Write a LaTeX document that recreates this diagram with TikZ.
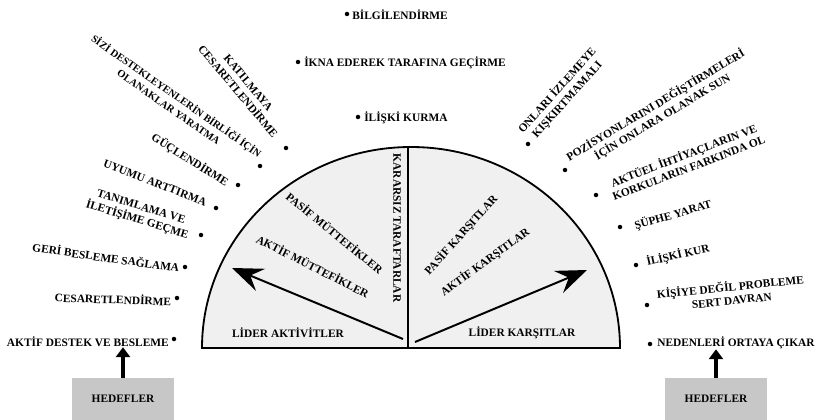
\documentclass[tikz,border=0pt]{standalone}
\usepackage{fontspec}
\setmainfont{Liberation Serif}
\usetikzlibrary{arrows.meta}

\begin{document}
\begin{tikzpicture}[x=0.025cm, y=-0.025cm,
    font=\fontsize{8.1}{9.6}\selectfont\bfseries,
    lbl/.style={inner sep=0pt, align=center},
    dot/.style={circle, fill=black, inner sep=0pt, minimum size=3.2pt},
    goal/.style={fill=black!22, minimum width=2.55cm, minimum height=1.05cm, inner sep=0pt}]
      \useasboundingbox (0,0) rectangle (817,420);
      \draw [fill=black!6, line width=1.3pt] (202,348) arc [start angle=180, end angle=360, x radius=209, y radius=201] -- cycle;
      \draw [line width=1pt] (408,147) -- (408,348);
      \node [lbl, rotate=-90] (kararsiz) at (397,228) {KARARSIZ TARAFTARLAR};
      \node [lbl, rotate=-39] (pasifM) at (335,233) {PASİF MÜTTEFİKLER};
      \node [lbl, rotate=-27] (aktifM) at (313,266) {AKTİF MÜTTEFİKLER};
      \node [lbl] (liderA) at (288,333) {LİDER AKTİVİTLER};
      \node [lbl, rotate=48] (pasifK) at (461,235) {PASİF KARŞITLAR};
      \node [lbl, rotate=36] (aktifK) at (485,262) {AKTİF KARŞITLAR};
      \node [lbl] (liderK) at (522,333) {LİDER KARŞITLAR};
      \coordinate (okA1) at (403,339);
      \coordinate (okA2) at (232,268);
      \coordinate (okK1) at (415,342);
      \coordinate (okK2) at (587,270);
      \draw [line width=1.4pt, -{Stealth[length=22pt, width=17pt, inset=8pt]}] (okA1) -- (okA2);
      \draw [line width=1.4pt, -{Stealth[length=22pt, width=17pt, inset=8pt]}] (okK1) -- (okK2);
      % ust
      \node [dot] (d1) at (347,14) {};
      \node [lbl, anchor=west] (bilgi) at (352,15) {BİLGİLENDİRME};
      \node [dot] (d2) at (298,62) {};
      \node [lbl, anchor=west] (ikna) at (304,63) {İKNA EDEREK TARAFINA GEÇİRME};
      \node [dot] (d3) at (358,117) {};
      \node [lbl, anchor=west] (iliski) at (364,118) {İLİŞKİ KURMA};
      % sol
      \node [lbl, rotate=-35, font=\fontsize{7.4}{9.4}\selectfont\bfseries] (sizi) at (173,101) {SİZİ DESTEKLEYENLERİN BİRLİĞİ İÇİN\\OLANAKLAR YARATMA};
      \node [dot] (d4) at (260,166) {};
      \node [lbl, rotate=-50] (katil) at (243,87) {KATILMAYA\\CESARETLENDİRME};
      \node [dot] (d5) at (286,148) {};
      \node [lbl, rotate=-32] (guc) at (190,160) {GÜÇLENDİRME};
      \node [dot] (d6) at (238,185) {};
      \node [lbl, rotate=-21] (uyum) at (155,183) {UYUMU ARTTIRMA};
      \node [dot] (d7) at (216,208) {};
      \node [lbl, rotate=-17] (tanim) at (139,214) {TANIMLAMA VE\\İLETİŞİME GEÇME};
      \node [dot] (d8) at (201,235) {};
      \node [lbl, rotate=-8] (geri) at (106,257) {GERİ BESLEME SAĞLAMA};
      \node [dot] (d9) at (185,267) {};
      \node [lbl, rotate=-2] (cesaret) at (113,299) {CESARETLENDİRME};
      \node [dot] (d10) at (177,298) {};
      \node [lbl, anchor=east] (aktif) at (169,342) {AKTİF DESTEK VE BESLEME};
      \node [dot] (d11) at (174,339) {};
      % sag
      \node [dot] (d12) at (528,144) {};
      \node [lbl, rotate=48] (onlari) at (562,95) {ONLARI İZLEMEYE\\KIŞKIRTMAMALI};
      \node [dot] (d13) at (565,170) {};
      \node [lbl, rotate=31] (pozisyon) at (659,111) {POZİSYONLARINI DEĞİŞTİRMELERİ\\İÇİN ONLARA OLANAK SUN};
      \node [dot] (d14) at (596,195) {};
      \node [lbl, rotate=21] (aktuel) at (686,161) {AKTÜEL İHTİYAÇLARIN VE\\KORKULARIN FARKINDA OL};
      \node [dot] (d15) at (620,227) {};
      \node [lbl, rotate=16] (suphe) at (673,215) {ŞÜPHE YARAT};
      \node [dot] (d16) at (636,265) {};
      \node [lbl, rotate=13] (kur) at (678,255) {İLİŞKİ KUR};
      \node [dot] (d17) at (647,305) {};
      \node [lbl, rotate=6] (kisiye) at (731,293) {KİŞİYE DEĞİL PROBLEME\\SERT DAVRAN};
      \node [dot] (d18) at (650,344) {};
      \node [lbl, anchor=west] (neden) at (657,343) {NEDENLERİ ORTAYA ÇIKAR};
      % hedefler
      \node [goal] (hedefL) at (123,399) {HEDEFLER};
      \node [goal] (hedefR) at (716,399) {HEDEFLER};
      \draw [line width=2.8pt, -{Triangle[length=7pt, width=10pt]}] (hedefL.north) -- (hedefL.north |- aktif.south);
      \draw [line width=2.8pt, -{Triangle[length=7pt, width=10pt]}] (hedefR.north) -- (hedefR.north |- neden.south);
\end{tikzpicture}
\end{document}
